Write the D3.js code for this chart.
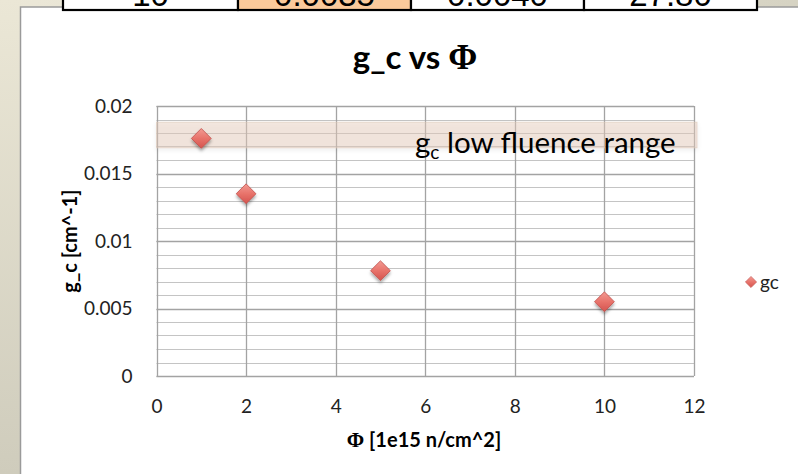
<!DOCTYPE html>
<html><head><meta charset="utf-8">
<script src="https://cdn.jsdelivr.net/npm/d3@7"></script>
<style>html,body{margin:0;padding:0;background:#fff;overflow:hidden;} svg{display:block;}</style>
</head><body>
<script>
// Series: coupling constant g_c measured at each fluence
const fluence = [1, 2, 5, 10];
const gcValues = [0.0176, 0.0135, 0.0078, 0.0055];
const seriesName = "gc";
// Shaded band: g_c range seen at low fluence
const lowFluenceRange = [0.0169, 0.0188];
// Axis ticks
const xTicks = [0, 2, 4, 6, 8, 10, 12];
const yTicks = [0, 0.005, 0.01, 0.015, 0.02];
// Last row of the results table above the chart
const tableRow = ["10", "0.0035", "0.0040", "27.80"];

const W = 798, H = 474;
const svg = d3.select("body").append("svg").attr("width", W).attr("height", H);
const defs = svg.append("defs");

// slide background
const bg = defs.append("linearGradient").attr("id", "bg").attr("x1", 0).attr("y1", 0).attr("x2", 1).attr("y2", 1);
bg.append("stop").attr("offset", 0).attr("stop-color", "#ece8d8");
bg.append("stop").attr("offset", 0.5).attr("stop-color", "#d6d3c3");
bg.append("stop").attr("offset", 1).attr("stop-color", "#b4b0a1");
svg.append("rect").attr("width", W).attr("height", H).attr("fill", "url(#bg)");

const leftBg = defs.append("linearGradient").attr("id", "leftBg").attr("x1", 0).attr("y1", 0).attr("x2", 0).attr("y2", 1);
leftBg.append("stop").attr("offset", 0).attr("stop-color", "#ebe7d6");
leftBg.append("stop").attr("offset", 1).attr("stop-color", "#cfccbc");
svg.append("rect").attr("x", 0).attr("y", 0).attr("width", 21).attr("height", H).attr("fill", "url(#leftBg)");

// white chart panel
svg.append("rect").attr("x", 20.5).attr("y", 7).attr("width", W).attr("height", H)
  .attr("fill", "#fff").attr("stroke", "#9a9a9a").attr("stroke-width", 1.5);

// table row cut off by the top edge
const colEdges = [63, 238, 411, 584, 757];
const tbl = svg.append("g");
tableRow.forEach((t, i) => {
  tbl.append("rect").attr("x", colEdges[i]).attr("y", -40).attr("width", colEdges[i + 1] - colEdges[i]).attr("height", 50)
    .attr("fill", i === 1 ? "#fbca9b" : "#fff").attr("stroke", "#000").attr("stroke-width", 2.2);
  tbl.append("text").attr("x", (colEdges[i] + colEdges[i + 1]) / 2).attr("y", 6)
    .attr("text-anchor", "middle").attr("font-family", "Liberation Sans, Arial, sans-serif")
    .attr("font-size", 33).attr("fill", "#000").text(t);
});

// scales
const x = d3.scaleLinear().domain([0, 12]).range([156.5, 694]);
const y = d3.scaleLinear().domain([0, 0.02]).range([376, 106]);
const font = "Lato, 'Open Sans', sans-serif";

// gridlines
const grid = svg.append("g");
grid.selectAll("line.minor").data(y.ticks(20)).join("line")
  .attr("x1", x(0)).attr("x2", x(12)).attr("y1", d => Math.round(y(d)) + 0.5).attr("y2", d => Math.round(y(d)) + 0.5)
  .attr("stroke", "#c4c4c4").attr("stroke-width", 1.2);
grid.selectAll("line.major").data(yTicks).join("line")
  .attr("x1", x(0)).attr("x2", x(12)).attr("y1", d => Math.round(y(d)) + 0.5).attr("y2", d => Math.round(y(d)) + 0.5)
  .attr("stroke", "#a3a3a3").attr("stroke-width", 1.3);
grid.selectAll("line.vx").data(xTicks).join("line")
  .attr("x1", d => Math.round(x(d)) + 0.5).attr("x2", d => Math.round(x(d)) + 0.5).attr("y1", y(0)).attr("y2", y(0.02))
  .attr("stroke", "#a3a3a3").attr("stroke-width", 1.3);

// axes labels
const xAxis = svg.append("g").attr("transform", `translate(0,${y(0) + 20})`)
  .call(d3.axisBottom(x).tickValues(xTicks).tickSize(0).tickFormat(d3.format("d")));
xAxis.select(".domain").remove();
xAxis.selectAll("text").attr("font-family", font).attr("font-size", 19).attr("fill", "#222").attr("dy", "0.71em");

const yAxis = svg.append("g").attr("transform", `translate(${x(0) - 21},0)`)
  .call(d3.axisLeft(y).tickValues(yTicks).tickSize(0).tickFormat(d3.format("~g")));
yAxis.select(".domain").remove();
yAxis.selectAll("text").attr("font-family", font).attr("font-size", 19).attr("fill", "#222");

// title
const title = svg.append("text").attr("x", 415).attr("y", 69).attr("text-anchor", "middle")
  .attr("font-family", font).attr("font-weight", "bold").attr("font-size", 33).attr("fill", "#000");
title.append("tspan").text("g_c vs ");
title.append("tspan").attr("font-family", "'Liberation Serif', serif").attr("font-size", 35).text("\u03A6");

// axis titles
const xt = svg.append("text").attr("x", 424).attr("y", 447).attr("text-anchor", "middle")
  .attr("font-family", font).attr("font-weight", "bold").attr("font-size", 20).attr("fill", "#000");
xt.append("tspan").attr("font-family", "'Liberation Serif', serif").attr("font-size", 21).text("\u03A6");
xt.append("tspan").text(" [1e15 n/cm^2]");

svg.append("text").attr("transform", `translate(77,${(y(0) + y(0.02)) / 2}) rotate(-90)`)
  .attr("text-anchor", "middle").attr("font-family", font).attr("font-weight", "bold")
  .attr("font-size", 20).attr("fill", "#000").text("g_c [cm^-1]");

// low-fluence band
const bandShadow = defs.append("filter").attr("id", "bandShadow").attr("x", "-5%").attr("y", "-50%").attr("width", "110%").attr("height", "200%");
bandShadow.append("feDropShadow").attr("dx", 0).attr("dy", 2).attr("stdDeviation", 2).attr("flood-color", "#000").attr("flood-opacity", 0.12);
svg.append("rect").attr("x", x(0)).attr("width", x(12) - x(0) + 3)
  .attr("y", y(lowFluenceRange[1])).attr("height", y(lowFluenceRange[0]) - y(lowFluenceRange[1]))
  .attr("fill", "#e6cdbb").attr("fill-opacity", 0.45).attr("stroke", "#dcc7b8").attr("stroke-opacity", 0.6)
  .attr("filter", "url(#bandShadow)");

const bandLabel = svg.append("text").attr("x", 415).attr("y", 153)
  .attr("font-family", font).attr("font-size", 29.5).attr("fill", "#000");
bandLabel.append("tspan").text("g");
bandLabel.append("tspan").attr("font-size", 19).attr("dy", 6).text("c");
bandLabel.append("tspan").attr("dy", -6).text(" low fluence range");

// markers
const grad = defs.append("linearGradient").attr("id", "mk").attr("x1", 0).attr("y1", 0).attr("x2", 0).attr("y2", 1);
grad.append("stop").attr("offset", 0).attr("stop-color", "#f29a92");
grad.append("stop").attr("offset", 0.5).attr("stop-color", "#e8736b");
grad.append("stop").attr("offset", 1).attr("stop-color", "#d4544e");
const mkShadow = defs.append("filter").attr("id", "mkShadow").attr("x", "-50%").attr("y", "-50%").attr("width", "200%").attr("height", "220%");
mkShadow.append("feDropShadow").attr("dx", 0).attr("dy", 2.5).attr("stdDeviation", 1.8).attr("flood-color", "#000").attr("flood-opacity", 0.35);

const diamond = d3.symbol().type(d3.symbolDiamond2).size(250);
svg.append("g").selectAll("path").data(fluence).join("path")
  .attr("transform", (d, i) => `translate(${x(d)},${y(gcValues[i])})`)
  .attr("d", diamond).attr("fill", "url(#mk)").attr("stroke", "#c0504d").attr("stroke-width", 0.8)
  .attr("filter", "url(#mkShadow)");

// legend
const lg = svg.append("g").attr("transform", "translate(751,282)");
lg.append("path").attr("d", d3.symbol().type(d3.symbolDiamond2).size(80)).attr("fill", "url(#mk)").attr("stroke", "#c0504d").attr("stroke-width", 0.6);
lg.append("text").attr("x", 9).attr("y", 7).attr("font-family", font).attr("font-size", 19).attr("fill", "#222").text(seriesName);
</script>
</body></html>
